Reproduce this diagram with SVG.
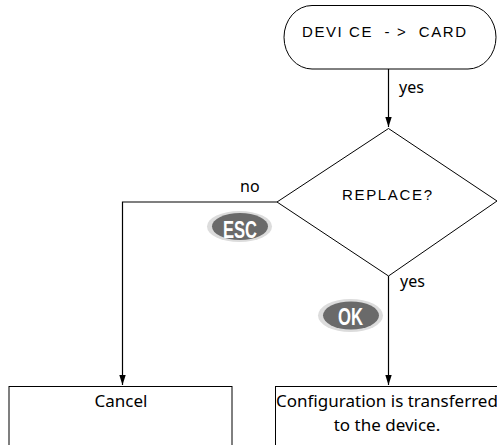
<svg xmlns="http://www.w3.org/2000/svg" width="497" height="445" viewBox="0 0 497 445">
<style>
.shape{fill:#fff;stroke:#000;stroke-width:1}
.line{fill:none;stroke:#000;stroke-width:1.2}
.mono{font-family:"Liberation Sans",Arial,sans-serif;font-size:15px;fill:#000}
.lbl{font-family:"Noto Sans",sans-serif;font-size:16px;fill:#000}
.box{font-family:"Noto Sans",sans-serif;font-size:17px;fill:#000;text-anchor:middle}
.btnOuter{fill:#dcdcdc}
.btnInner{fill:#6a6a6a}
.btnText{font-family:"Liberation Sans",Arial,sans-serif;font-weight:bold;font-size:24px;fill:#fff;text-anchor:middle}
</style>
<defs>
<marker id="arr" markerUnits="userSpaceOnUse" markerWidth="10" markerHeight="15" refX="14" refY="4.5" orient="auto" viewBox="0 0 14 9">
<path d="M0,0 L14,4.5 L0,9 Z" fill="#000"/>
</marker>
</defs>
<rect width="497" height="445" fill="#fff"/>
<g id="connectors">
<line class="line" x1="388.5" y1="69" x2="388.5" y2="127" marker-end="url(#arr)"/>
<polyline class="line" points="277,202 122.5,202 122.5,385" marker-end="url(#arr)"/>
<line class="line" x1="388.5" y1="276" x2="388.5" y2="385" marker-end="url(#arr)"/>
<text class="lbl" x="399" y="93">yes</text>
<text class="lbl" x="240" y="192">no</text>
<text class="lbl" x="400" y="287">yes</text>
</g>
<g id="start">
<rect class="shape" x="284" y="5.5" width="212" height="63.5" rx="28" ry="31.75"/>
<text class="mono" x="302" y="37" textLength="164" lengthAdjust="spacing" xml:space="preserve">DEVI CE  - &gt;  CARD</text>
</g>
<g id="decision">
<polygon class="shape" points="388.5,128.5 497,201 388.5,276 277,202"/>
<text class="mono" x="342" y="200" textLength="90" lengthAdjust="spacing">REPLACE?</text>
</g>
<g id="esc">
<ellipse class="btnOuter" cx="239.5" cy="226.5" rx="32.5" ry="15.5"/>
<ellipse class="btnInner" cx="240" cy="226.5" rx="28" ry="13.5"/>
<text class="btnText" x="240" y="237.5" textLength="34" lengthAdjust="spacingAndGlyphs">ESC</text>
</g>
<g id="ok">
<ellipse class="btnOuter" cx="350.5" cy="315.5" rx="32.5" ry="16.5"/>
<ellipse class="btnInner" cx="351" cy="315.5" rx="28" ry="14"/>
<text class="btnText" x="350.5" y="324.5" textLength="25" lengthAdjust="spacingAndGlyphs">OK</text>
</g>
<g id="cancel">
<rect class="shape" x="9" y="386.5" width="223" height="70"/>
<text class="box" x="121" y="407">Cancel</text>
</g>
<g id="transfer">
<rect class="shape" x="275.5" y="386.5" width="230" height="70"/>
<text class="box" x="387" y="407">Configuration is transferred</text>
<text class="box" x="387" y="431">to the device.</text>
</g>
</svg>
